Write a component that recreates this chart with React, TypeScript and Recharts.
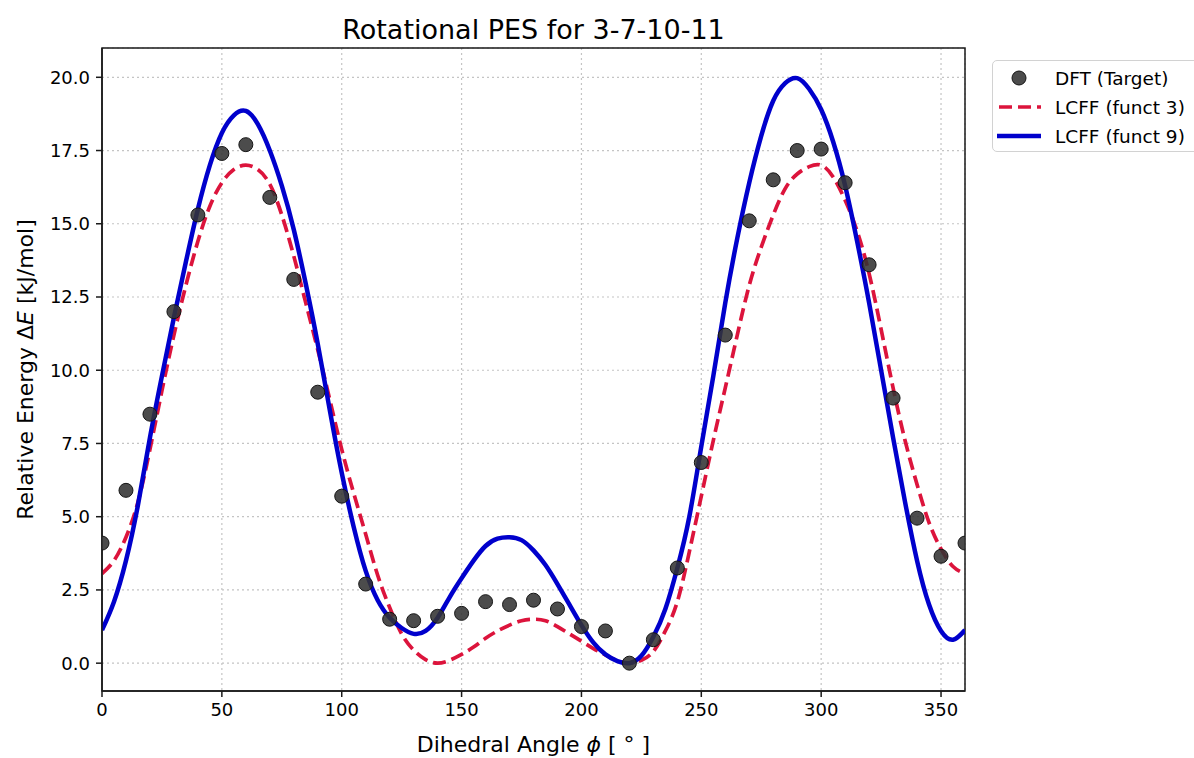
import React from 'react';
import { ComposedChart, Line, Scatter, XAxis, YAxis, CartesianGrid, ReferenceArea } from 'recharts';

// dihedral grid used for the two fitted LCFF curves (deg)
const curveAngles = [
  0, 5, 10, 15, 20, 25, 30, 35, 40, 45, 50, 55, 60, 65, 70, 75, 80, 85, 90, 95,
  100, 105, 110, 115, 120, 125, 130, 135, 140, 145, 150, 155, 160, 165, 170, 175,
  180, 185, 190, 195, 200, 205, 210, 215, 220, 225, 230, 235, 240, 245, 250, 255,
  260, 265, 270, 275, 280, 285, 290, 295, 300, 305, 310, 315, 320, 325, 330, 335,
  340, 345, 350, 355, 360,
];

const funct3 = [
  3.06, 3.5, 4.3, 5.5, 7.3, 9.3, 11.2, 12.9, 14.4, 15.6, 16.4, 16.85, 17.0, 16.85, 16.35, 15.3,
  13.9, 12.3, 10.7, 9.0, 7.3, 5.8, 4.4, 3.0, 1.9, 1.0, 0.45, 0.12, 0.0, 0.1,
  0.3, 0.55, 0.85, 1.1, 1.3, 1.45, 1.5, 1.45, 1.25, 1.0, 0.75, 0.5, 0.28, 0.08,
  0.0, 0.1, 0.4, 1.1, 2.1, 3.8, 5.7, 7.6, 9.4, 11.2, 12.9, 14.2, 15.3, 16.2,
  16.7, 16.95, 17.0, 16.6, 15.8, 14.75, 13.3, 11.4, 9.4, 7.6, 6.1, 4.8, 3.9, 3.3, 3.06,
];

const funct9 = [
  1.13, 2.1, 3.5, 5.4, 7.7, 9.8, 11.8, 13.7, 15.5, 17.0, 18.1, 18.7, 18.85, 18.4, 17.5, 16.3,
  14.8, 12.95, 10.9, 8.65, 6.5, 4.65, 3.15, 2.15, 1.55, 1.2, 1.0, 1.1, 1.55, 2.25,
  2.9, 3.5, 4.0, 4.25, 4.3, 4.2, 3.85, 3.35, 2.7, 2.0, 1.3, 0.7, 0.3, 0.07,
  0.0, 0.25, 0.9, 1.85, 3.25, 5.0, 7.4, 9.8, 12.3, 14.5, 16.4, 18.0, 19.2, 19.8,
  19.97, 19.6, 18.9, 17.8, 16.3, 14.4, 12.3, 10.0, 7.7, 5.5, 3.5, 2.0, 1.1, 0.8, 1.13,
];

// DFT scan points
const dftAngles = [
  0, 10, 20, 30, 40, 50, 60, 70, 80, 90, 100, 110, 120, 130, 140, 150, 160, 170, 180,
  190, 200, 210, 220, 230, 240, 250, 260, 270, 280, 290, 300, 310, 320, 330, 340, 350, 360,
];
const dftEnergy = [
  4.1, 5.9, 8.5, 12.0, 15.3, 17.4, 17.7, 15.9, 13.1, 9.25, 5.7, 2.7, 1.5, 1.45, 1.6, 1.7, 2.1, 2.0, 2.15,
  1.85, 1.25, 1.1, 0.0, 0.8, 3.25, 6.85, 11.2, 15.1, 16.5, 17.5, 17.55, 16.4, 13.6, 9.05, 4.95, 3.65, 4.1,
];

const xTicks = [0, 50, 100, 150, 200, 250, 300, 350];
const yTicks = [0, 2.5, 5, 7.5, 10, 12.5, 15, 17.5, 20];

const curveRows = curveAngles.map((phi, i) => ({ phi, f3: funct3[i], f9: funct9[i] }));
const dftRows = dftAngles.map((phi, i) => ({ phi, dft: dftEnergy[i] }));

const FONT = '"DejaVu Sans", Verdana, sans-serif';
const BLUE = '#0000cc';
const RED = '#dc143c';
const AXIS = '#1a1a1a';
const xDomain = [0, 360];
const yDomain = [-0.95, 21.0];

const XLabel = (props: any) => {
  const vb = props.viewBox;
  return (
    <text x={vb.x + vb.width / 2} y={vb.y + 61} textAnchor="middle" fontSize={22} fontFamily={FONT} fill="#000">
      Dihedral Angle <tspan fontStyle="italic">ϕ</tspan> [ ° ]
    </text>
  );
};

const YLabel = (props: any) => {
  const vb = props.viewBox;
  const cy = vb.y + vb.height / 2;
  return (
    <text x={33} y={cy} transform={`rotate(-90, 33, ${cy})`} textAnchor="middle" fontSize={22} fontFamily={FONT} fill="#000">
      Relative Energy Δ<tspan fontStyle="italic">E</tspan> [kJ/mol]
    </text>
  );
};

const Dot = (p: any) => (
  <circle cx={p.cx} cy={p.cy} r={7} fill="#333" fillOpacity={0.88} stroke="#151515" strokeWidth={1} />
);

function LegendBox() {
  const row = (top: number, icon: React.ReactNode, text: string) => (
    <div style={{ position: 'absolute', left: 0, top, height: 28, display: 'flex', alignItems: 'center' }}>
      <svg width={58} height={28}>{icon}</svg>
      <span style={{ fontSize: 18.5, fontFamily: FONT, color: '#000', whiteSpace: 'nowrap', marginLeft: 4 }}>{text}</span>
    </div>
  );
  return (
    <div style={{
      position: 'absolute', left: 992, top: 60, width: 240, height: 92,
      border: '1.5px solid #d2d2d2', borderRadius: 5, background: 'rgba(255,255,255,0.8)', boxSizing: 'border-box',
    }}>
      {row(3, <circle cx={26} cy={14} r={7} fill="#333" fillOpacity={0.88} stroke="#151515" />, 'DFT (Target)')}
      {row(32, <line x1={6} y1={14} x2={48} y2={14} stroke={RED} strokeWidth={3.7} strokeDasharray="13 6" />, 'LCFF (funct 3)')}
      {row(61, <line x1={4} y1={14} x2={48} y2={14} stroke={BLUE} strokeWidth={4.5} />, 'LCFF (funct 9)')}
    </div>
  );
}

export default function App() {
  return (
    <div style={{ position: 'absolute', left: 0, top: 0, width: 1194, height: 758, background: '#fff', overflow: 'hidden' }}>
      <div style={{
        position: 'absolute', left: 102, width: 863, top: 15, textAlign: 'center',
        fontSize: 27, fontFamily: FONT, color: '#000', lineHeight: '30px',
      }}>
        Rotational PES for 3-7-10-11
      </div>
      <ComposedChart width={1194} height={758} margin={{ top: 48, right: 229, left: 0, bottom: 0 }}>
        <CartesianGrid stroke="#c4c4c4" strokeWidth={1.2} strokeDasharray="2 3" />
        <XAxis
          dataKey="phi" type="number" domain={xDomain} ticks={xTicks} allowDataOverflow
          height={67} tickSize={6} tickMargin={6}
          tick={{ fontSize: 18, fontFamily: FONT, fill: '#000' }}
          tickLine={{ stroke: AXIS, strokeWidth: 1.5 }} axisLine={{ stroke: AXIS, strokeWidth: 1.5 }}
          label={<XLabel />}
        />
        <YAxis
          type="number" domain={yDomain} ticks={yTicks} allowDataOverflow width={102}
          tickSize={6} tickMargin={6} tickFormatter={(v: number) => v.toFixed(1)}
          tick={{ fontSize: 18, fontFamily: FONT, fill: '#000' }}
          tickLine={{ stroke: AXIS, strokeWidth: 1.5 }} axisLine={{ stroke: AXIS, strokeWidth: 1.5 }}
          label={<YLabel />}
        />
        <Scatter data={dftRows} dataKey="dft" shape={<Dot />} isAnimationActive={false} />
        <Line data={curveRows} dataKey="f3" type="natural" stroke={RED} strokeWidth={3.7}
          strokeDasharray="13 6" dot={false} activeDot={false} isAnimationActive={false} />
        <Line data={curveRows} dataKey="f9" type="natural" stroke={BLUE} strokeWidth={4.5}
          dot={false} activeDot={false} isAnimationActive={false} />
        {/* axes frame (top/right spines) */}
        <ReferenceArea x1={xDomain[0]} x2={xDomain[1]} y1={yDomain[0]} y2={yDomain[1]}
          fill="none" fillOpacity={0} stroke={AXIS} strokeWidth={1.5} ifOverflow="visible" />
      </ComposedChart>
      <LegendBox />
    </div>
  );
}
